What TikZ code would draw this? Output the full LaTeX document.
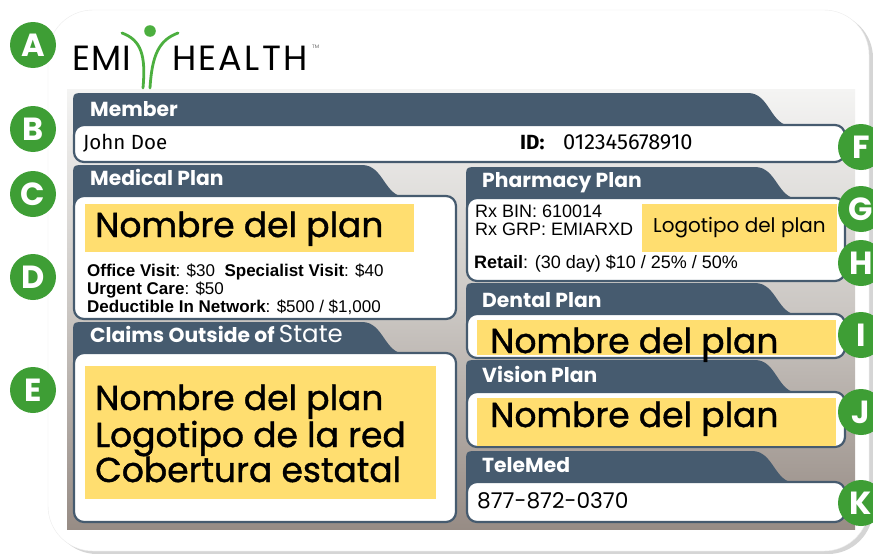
\documentclass[tikz,border=0pt]{standalone}
\usepackage{fontspec}
\setmainfont{Liberation Sans}
\newfontfamily\pop{Poppins}
\newfontfamily\popm[FakeBold=1.2]{Poppins}
\newfontfamily\popls[LetterSpace=6.5]{Poppins}
\newfontfamily\popes[LetterSpace=3]{Poppins}
\newfontfamily\fira{Fira Sans}
\newfontfamily\ari{Liberation Sans}
\usetikzlibrary{shadows}
\definecolor{slate}{HTML}{465B6F}
\definecolor{ylw}{HTML}{FFDE70}
\definecolor{grn}{HTML}{3E9E35}
\definecolor{logogrn}{HTML}{4CAF3F}
\definecolor{paneltop}{HTML}{F4F4F3}
\definecolor{panelmid}{HTML}{CBC7C3}
\definecolor{panelbot}{HTML}{978C85}
\tikzset{
  boxline/.style={draw=slate, line width=2.2pt, fill=white, rounded corners=10pt},
  hdr/.style={anchor=base west, inner sep=0pt, text=white, font=\pop\bfseries\fontsize{20.3}{21}\selectfont},
  bigtxt/.style={anchor=base west, inner sep=0pt, text=black, font=\popm\fontsize{34.5}{36}\selectfont},
  body/.style={anchor=base west, inner sep=0pt, text=black, font=\ari\fontsize{17}{18}\selectfont},
  rxbody/.style={anchor=base west, inner sep=0pt, text=black, font=\ari\fontsize{18}{19}\selectfont},
  din/.style={anchor=base west, inner sep=0pt, text=black, font=\fira\fontsize{20.5}{21}\selectfont},
  badge/.style={circle, fill=grn, minimum size=46pt, inner sep=0pt, text=white, font=\pop\bfseries\fontsize{32}{32}\selectfont},
  ybox/.style={fill=ylw}
}
\newcommand{\secbox}[6]{%
  \fill[slate] (#1,#4+10) -- (#1,#3+12) .. controls (#1,#3) .. (#1+12,#3) -- (#6,#3)
     .. controls (#6+22,#3) and (#6+22,#4+1) .. (#6+44,#4+1) -- (#1+10,#4+1) -- (#1+10,#4+10) -- cycle;
  \draw[boxline] (#1+1,#4) rectangle (#2,#5);
}
\begin{document}
\begin{tikzpicture}[x=1pt,y=-1pt]
\useasboundingbox (0,0) rectangle (873,554);
% card
\draw[draw=black!8, fill=white, rounded corners=45pt,
  drop shadow={shadow xshift=4pt, shadow yshift=-3pt, opacity=0.3, fill=black!55}]
  (48,10) rectangle (869,551);
% panel
\shade[top color=paneltop, bottom color=panelbot, middle color=panelmid] (67,89) rectangle (855,529);
% sections
\secbox{73}{845}{93}{125}{162}{748}
\secbox{73}{456}{165}{196}{319}{362}
\secbox{73}{456}{322}{353}{522}{362}
\secbox{466}{845}{167}{198}{281}{755}
\secbox{466}{845}{283}{314}{358}{755}
\secbox{466}{845}{360}{392}{447}{755}
\secbox{466}{845}{451}{482}{522}{752}
% yellow
\fill[ybox] (85,204) rectangle (414,252);
\fill[ybox] (85,366) rectangle (436,499);
\fill[ybox] (642,204) rectangle (837,252);
\fill[ybox] (477,320) rectangle (836,355);
\fill[ybox] (477,398) rectangle (836,446);
% headers
\node[hdr] (hmember) at (90,116) {Member};
\node[hdr] (hmedical) at (90,185) {Medical Plan};
\node[hdr] (hclaims) at (90,342) {Claims Outside of {\mdseries\fontsize{24.5}{25}\selectfont State}};
\node[hdr] (hpharm) at (482,187) {Pharmacy Plan};
\node[hdr] (hdental) at (482,307) {Dental Plan};
\node[hdr] (hvision) at (482,382) {Vision Plan};
\node[hdr] (htele) at (482,472) {TeleMed};
% member
\node[din] (name) at (83,149) {John Doe};
\node[din, font=\fira\bfseries\fontsize{20.5}{21}\selectfont] (idl) at (520,149) {ID:};
\node[din, font=\fira\fontsize{21.8}{22}\selectfont] (idn) at (563,149) {012345678910};
% medical
\node[bigtxt] (medname) at (95,237) {Nombre del plan};
\node[body] (med1) at (87,276) {\textbf{Office Visit}: \$30\ \ \textbf{Specialist Visit}: \$40};
\node[body] (med2) at (87,294) {\textbf{Urgent Care}: \$50};
\node[body] (med3) at (87,312) {\textbf{Deductible In Network}: \$500 / \$1,000};
% claims
\node[bigtxt] (cl1) at (95,410) {Nombre del plan};
\node[bigtxt] (cl2) at (95,447) {Logotipo de la red};
\node[bigtxt] (cl3) at (95,482) {Cobertura estatal};
% pharmacy
\node[rxbody] (rx1) at (475,217) {Rx BIN: 610014};
\node[rxbody] (rx2) at (475,235) {Rx GRP: EMIARXD};
\node[rxbody] (retail) at (474,268) {\textbf{Retail}: (30 day) \$10 / 25\% / 50\%};
\node[anchor=base west, inner sep=0pt, font=\pop\fontsize{20}{21}\selectfont] (logop) at (653,232) {Logotipo del plan};
% dental / vision / telemed
\node[bigtxt] (dent) at (490,353) {Nombre del plan};
\node[bigtxt] (vis) at (490,427) {Nombre del plan};
\node[anchor=base west, inner sep=0pt, font=\pop\fontsize{21.7}{22}\selectfont] (tel) at (477,508) {877-872-0370};
% logo
\node[anchor=base west, inner sep=0pt, font=\popes\fontsize{35}{36}\selectfont] (emi) at (72,70) {EMI};
\node[anchor=base west, inner sep=0pt, font=\popls\fontsize{35}{36}\selectfont] (health) at (172,70) {HEALTH};
\node[anchor=base west, inner sep=0pt, text=black!60, font=\pop\fontsize{5}{5}\selectfont] (tm) at (312,48) {TM};
\fill[logogrn] (150,31) circle (5.8);
\draw[logogrn, line width=2.8pt, line cap=round] (122,33) .. controls (141,40) and (146,55) .. (143,88);
\draw[logogrn, line width=2.8pt, line cap=round] (178,33) .. controls (159,40) and (152,55) .. (150,88);
% badges
\node[badge] (bA) at (33,45) {A};
\node[badge] (bB) at (33,129) {B};
\node[badge] (bC) at (33,194) {C};
\node[badge] (bD) at (33,277) {D};
\node[badge] (bE) at (33,390) {E};
\node[badge] (bF) at (861,147) {F};
\node[badge] (bG) at (861,209) {G};
\node[badge] (bH) at (861,263) {H};
\node[badge] (bI) at (861,335) {I};
\node[badge] (bJ) at (861,412) {J};
\node[badge] (bK) at (861,503) {K};
\end{tikzpicture}
\end{document}
